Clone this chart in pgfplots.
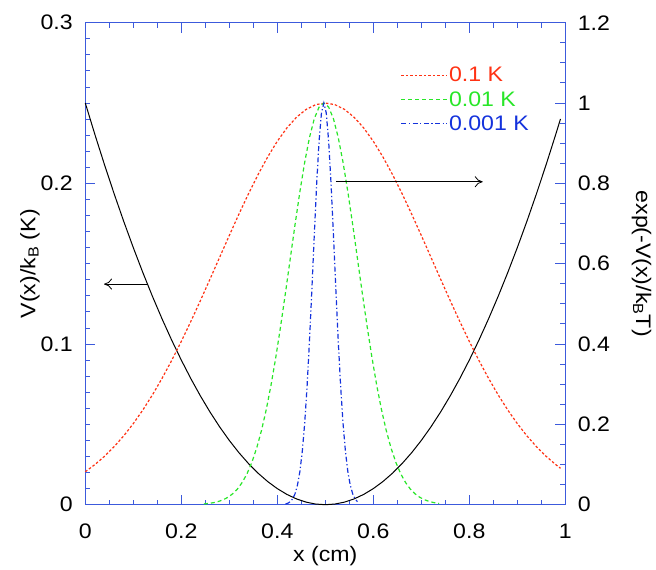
\documentclass[border=0pt]{standalone}
\usepackage{pgfplots}
\pgfplotsset{compat=1.18}
\usepackage{fontspec}
\setmainfont{Liberation Sans}[FakeStretch=1.1]
\usetikzlibrary{arrows.meta}

\definecolor{axblue}{RGB}{60,90,220}
\definecolor{cred}{RGB}{255,50,20}
\definecolor{cgreen}{RGB}{40,230,40}
\definecolor{cblue}{RGB}{20,50,220}

\pgfplotsset{
  common/.style={
    scale only axis, width=480pt, height=482pt,
    xmin=0, xmax=1,
    axis line style={axblue, line width=0.9pt},
    tick style={axblue, line width=0.9pt},
    major tick length=10pt, minor tick length=5pt,
    tick label style={font=\fontsize{21}{23}\selectfont},
    label style={font=\fontsize{21}{23}\selectfont},
    /pgf/number format/assume math mode=true,
  },
}

\begin{document}
\begin{tikzpicture}
\begin{axis}[common, name=ax,
    ymin=0, ymax=0.3,
    xtick={0,0.2,0.4,0.6,0.8,1}, minor x tick num=3,
    ytick={0,0.1,0.2,0.3}, minor y tick num=9,
    ytick pos=left, xtick pos=both,
    xticklabel style={yshift=-16pt},
    yticklabel style={xshift=-9pt},
    xlabel={x (cm)}, ylabel={V(x)/k\textsubscript{B} (K)},
    xlabel style={yshift=0pt},
    ylabel style={yshift=-6pt},
    clip=false,
  ]
  \addplot[black, line width=1pt] coordinates {
    (0,0.25)(0.02,0.2304)(0.04,0.2116)(0.06,0.1936)(0.08,0.1764)(0.10,0.16)
    (0.12,0.1444)(0.14,0.1296)(0.16,0.1156)(0.18,0.1024)(0.20,0.09)(0.22,0.0784)
    (0.24,0.0676)(0.26,0.0576)(0.28,0.0484)(0.30,0.04)(0.32,0.0324)(0.34,0.0256)
    (0.36,0.0196)(0.38,0.0144)(0.40,0.01)(0.42,0.0064)(0.44,0.0036)(0.46,0.0016)
    (0.48,0.0004)(0.50,0)(0.52,0.0004)(0.54,0.0016)(0.56,0.0036)(0.58,0.0064)
    (0.60,0.01)(0.62,0.0144)(0.64,0.0196)(0.66,0.0256)(0.68,0.0324)(0.70,0.04)
    (0.72,0.0484)(0.74,0.0576)(0.76,0.0676)(0.78,0.0784)(0.80,0.09)(0.82,0.1024)
    (0.84,0.1156)(0.86,0.1296)(0.88,0.1444)(0.90,0.16)(0.92,0.1764)(0.94,0.1936)
    (0.96,0.2116)(0.98,0.2304)(0.99,0.2401)};
  \draw[black, line width=0.8pt, -{To[length=8pt,width=11pt]}]
    (axis cs:0.128,0.1373) -- (axis cs:0.039,0.1373);
\end{axis}

\begin{axis}[common,
    ymin=0, ymax=1.2,
    axis x line=none, axis y line*=right,
    ytick={0,0.2,0.4,0.6,0.8,1,1.2}, minor y tick num=3,
    yticklabel style={xshift=9pt},
    ylabel={exp(-V(x)/k\textsubscript{B}T)},
    ylabel style={rotate=180, yshift=15pt},
    clip=false,
    legend style={draw=none, fill=none, at={(0.657,0.91)}, anchor=north west,
      font=\fontsize{21}{23}\selectfont, row sep=6pt, inner sep=0pt,
      nodes={inner sep=1pt}},
    legend cell align=left,
    legend image code/.code={\draw[#1, line width=1.2pt] (0pt,0pt) -- (46pt,0pt);},
  ]
  \addplot[cred, line width=1.2pt, dash pattern=on 2.5pt off 2pt] coordinates {
    (0,0.0821)(0.02,0.0999)(0.04,0.1205)(0.06,0.1443)(0.08,0.1714)(0.10,0.2019)
    (0.12,0.2360)(0.14,0.2736)(0.16,0.3148)(0.18,0.3592)(0.20,0.4066)(0.22,0.4566)
    (0.24,0.5087)(0.26,0.5621)(0.28,0.6163)(0.30,0.6703)(0.32,0.7233)(0.34,0.7741)
    (0.36,0.8220)(0.38,0.8659)(0.40,0.9048)(0.42,0.9380)(0.44,0.9646)(0.46,0.9841)
    (0.48,0.9960)(0.50,1)(0.52,0.9960)(0.54,0.9841)(0.56,0.9646)(0.58,0.9380)
    (0.60,0.9048)(0.62,0.8659)(0.64,0.8220)(0.66,0.7741)(0.68,0.7233)(0.70,0.6703)
    (0.72,0.6163)(0.74,0.5621)(0.76,0.5087)(0.78,0.4566)(0.80,0.4066)(0.82,0.3592)
    (0.84,0.3148)(0.86,0.2736)(0.88,0.2360)(0.90,0.2019)(0.92,0.1714)(0.94,0.1443)
    (0.96,0.1205)(0.98,0.0999)(0.99,0.0906)};
  \addplot[cgreen, line width=1.2pt, dash pattern=on 4pt off 3pt] coordinates {
    (0.247,0.0019)(0.257,0.0032)(0.267,0.0050)(0.277,0.0079)(0.287,0.0122)
    (0.297,0.0183)(0.307,0.0271)(0.317,0.0392)(0.327,0.0556)(0.337,0.0773)
    (0.347,0.1054)(0.357,0.1409)(0.367,0.1845)(0.377,0.2369)(0.387,0.2982)
    (0.397,0.3679)(0.407,0.4449)(0.417,0.5273)(0.427,0.6126)(0.437,0.6977)
    (0.447,0.7788)(0.457,0.8521)(0.467,0.9139)(0.477,0.9608)(0.487,0.9900)
    (0.497,1)(0.507,0.9900)(0.517,0.9608)(0.527,0.9139)(0.537,0.8521)
    (0.547,0.7788)(0.557,0.6977)(0.567,0.6126)(0.577,0.5273)(0.587,0.4449)
    (0.597,0.3679)(0.607,0.2982)(0.617,0.2369)(0.627,0.1845)(0.637,0.1409)
    (0.647,0.1054)(0.657,0.0773)(0.667,0.0556)(0.677,0.0392)(0.687,0.0271)
    (0.697,0.0183)(0.707,0.0122)(0.717,0.0079)(0.727,0.0050)(0.737,0.0032)};
  \addplot[cblue, line width=1.2pt, dash pattern=on 5pt off 2.5pt on 1.2pt off 2.5pt] coordinates {
    (0.417,0.0017)(0.422,0.0036)(0.427,0.0075)(0.432,0.0146)(0.437,0.0273)
    (0.442,0.0486)(0.447,0.0821)(0.452,0.1320)(0.457,0.2019)(0.462,0.2938)
    (0.467,0.4066)(0.472,0.5353)(0.477,0.6703)(0.482,0.7985)(0.487,0.9048)
    (0.492,0.9753)(0.497,1)(0.502,0.9753)(0.507,0.9048)(0.512,0.7985)
    (0.517,0.6703)(0.522,0.5353)(0.527,0.4066)(0.532,0.2938)(0.537,0.2019)
    (0.542,0.1320)(0.547,0.0821)(0.552,0.0486)(0.557,0.0273)(0.562,0.0146)
    (0.567,0.0075)};
  \legend{\textcolor{cred}{0.1 K}, \textcolor{cgreen}{0.01 K}, \textcolor{cblue}{0.001 K}}
  \draw[black, line width=0.8pt, -{To[length=8pt,width=11pt]}]
    (axis cs:0.522,0.804) -- (axis cs:0.828,0.804);
\end{axis}
\path ([xshift=-85.3pt,yshift=-65pt]ax.south west) rectangle ([xshift=90.7pt,yshift=22.7pt]ax.north east);
\end{tikzpicture}
\end{document}
